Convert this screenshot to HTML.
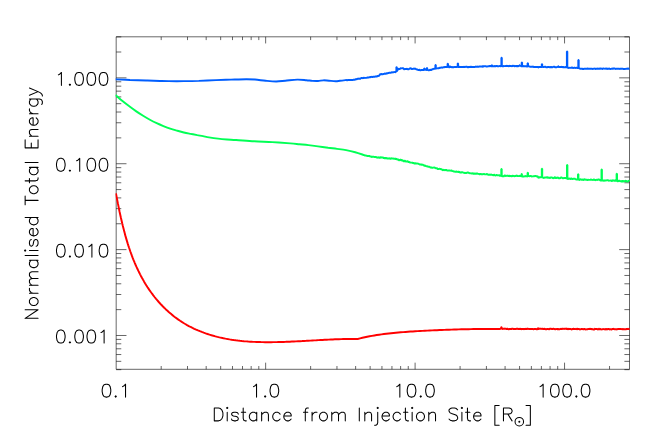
<!DOCTYPE html>
<html><head><meta charset="utf-8"><title>Normalised Total Energy</title>
<style>html,body{margin:0;padding:0;background:#fff;font-family:"Liberation Sans",sans-serif;}svg{display:block}</style></head><body>
<svg width="664" height="443" viewBox="0 0 664 443">
<rect x="0" y="0" width="664" height="443" fill="#ffffff"/>
<path d="M116.18 36.80 H629.50 V369.30 H116.18 Z M161.19 369.30 v-3.30 M161.19 36.80 v3.30 M187.51 369.30 v-3.30 M187.51 36.80 v3.30 M206.18 369.30 v-3.30 M206.18 36.80 v3.30 M220.66 369.30 v-3.30 M220.66 36.80 v3.30 M232.49 369.30 v-3.30 M232.49 36.80 v3.30 M242.50 369.30 v-3.30 M242.50 36.80 v3.30 M251.17 369.30 v-3.30 M251.17 36.80 v3.30 M258.81 369.30 v-3.30 M258.81 36.80 v3.30 M265.65 369.30 v-6.65 M265.65 36.80 v6.65 M310.64 369.30 v-3.30 M310.64 36.80 v3.30 M336.96 369.30 v-3.30 M336.96 36.80 v3.30 M355.63 369.30 v-3.30 M355.63 36.80 v3.30 M370.11 369.30 v-3.30 M370.11 36.80 v3.30 M381.94 369.30 v-3.30 M381.94 36.80 v3.30 M391.95 369.30 v-3.30 M391.95 36.80 v3.30 M400.62 369.30 v-3.30 M400.62 36.80 v3.30 M408.26 369.30 v-3.30 M408.26 36.80 v3.30 M415.10 369.30 v-6.65 M415.10 36.80 v6.65 M460.09 369.30 v-3.30 M460.09 36.80 v3.30 M486.41 369.30 v-3.30 M486.41 36.80 v3.30 M505.08 369.30 v-3.30 M505.08 36.80 v3.30 M519.56 369.30 v-3.30 M519.56 36.80 v3.30 M531.39 369.30 v-3.30 M531.39 36.80 v3.30 M541.40 369.30 v-3.30 M541.40 36.80 v3.30 M550.07 369.30 v-3.30 M550.07 36.80 v3.30 M557.71 369.30 v-3.30 M557.71 36.80 v3.30 M564.55 369.30 v-6.65 M564.55 36.80 v6.65 M609.54 369.30 v-3.30 M609.54 36.80 v3.30 M116.18 369.67 h5.10 M629.50 369.67 h-5.10 M116.18 361.34 h5.10 M629.50 361.34 h-5.10 M116.18 354.54 h5.10 M629.50 354.54 h-5.10 M116.18 348.79 h5.10 M629.50 348.79 h-5.10 M116.18 343.81 h5.10 M629.50 343.81 h-5.10 M116.18 339.42 h5.10 M629.50 339.42 h-5.10 M116.18 335.49 h10.30 M629.50 335.49 h-10.30 M116.18 309.64 h5.10 M629.50 309.64 h-5.10 M116.18 294.51 h5.10 M629.50 294.51 h-5.10 M116.18 283.79 h5.10 M629.50 283.79 h-5.10 M116.18 275.46 h5.10 M629.50 275.46 h-5.10 M116.18 268.66 h5.10 M629.50 268.66 h-5.10 M116.18 262.91 h5.10 M629.50 262.91 h-5.10 M116.18 257.93 h5.10 M629.50 257.93 h-5.10 M116.18 253.54 h5.10 M629.50 253.54 h-5.10 M116.18 249.61 h10.30 M629.50 249.61 h-10.30 M116.18 223.76 h5.10 M629.50 223.76 h-5.10 M116.18 208.63 h5.10 M629.50 208.63 h-5.10 M116.18 197.91 h5.10 M629.50 197.91 h-5.10 M116.18 189.58 h5.10 M629.50 189.58 h-5.10 M116.18 182.78 h5.10 M629.50 182.78 h-5.10 M116.18 177.03 h5.10 M629.50 177.03 h-5.10 M116.18 172.05 h5.10 M629.50 172.05 h-5.10 M116.18 167.66 h5.10 M629.50 167.66 h-5.10 M116.18 163.73 h10.30 M629.50 163.73 h-10.30 M116.18 137.88 h5.10 M629.50 137.88 h-5.10 M116.18 122.75 h5.10 M629.50 122.75 h-5.10 M116.18 112.03 h5.10 M629.50 112.03 h-5.10 M116.18 103.70 h5.10 M629.50 103.70 h-5.10 M116.18 96.90 h5.10 M629.50 96.90 h-5.10 M116.18 91.15 h5.10 M629.50 91.15 h-5.10 M116.18 86.17 h5.10 M629.50 86.17 h-5.10 M116.18 81.78 h5.10 M629.50 81.78 h-5.10 M116.18 77.85 h10.30 M629.50 77.85 h-10.30 M116.18 52.00 h5.10 M629.50 52.00 h-5.10 M116.18 36.87 h5.10 M629.50 36.87 h-5.10" fill="none" stroke="#000000" stroke-width="0.60" stroke-linecap="butt" stroke-linejoin="miter"/>
<defs><clipPath id="pc"><rect x="115.43" y="36.80" width="514.67" height="332.50"/></clipPath></defs>
<g clip-path="url(#pc)" fill="none" stroke-linejoin="bevel" stroke-linecap="butt">
<path d="M115.95 193.40 L116.33 195.39 L116.71 197.39 L117.10 199.38 L117.49 201.39 L117.88 203.39 L118.29 205.40 L118.70 207.42 L119.11 209.43 L119.53 211.45 L119.96 213.46 L120.40 215.48 L120.85 217.50 L121.31 219.52 L121.78 221.54 L122.25 223.56 L122.74 225.58 L123.24 227.59 L123.76 229.60 L124.28 231.62 L124.82 233.62 L125.37 235.63 L125.94 237.63 L126.52 239.63 L127.12 241.62 L127.73 243.61 L128.36 245.59 L129.00 247.56 L129.67 249.53 L130.35 251.50 L131.05 253.45 L131.77 255.40 L132.50 257.34 L133.26 259.27 L134.04 261.20 L134.84 263.11 L135.66 265.01 L136.51 266.91 L137.37 268.79 L138.26 270.66 L139.18 272.52 L140.11 274.37 L141.07 276.21 L142.06 278.03 L143.07 279.84 L144.10 281.63 L145.16 283.41 L146.25 285.17 L147.36 286.92 L148.50 288.64 L149.66 290.35 L150.85 292.04 L152.06 293.71 L153.30 295.36 L154.57 296.99 L155.86 298.59 L157.19 300.18 L158.53 301.74 L159.91 303.27 L161.31 304.79 L162.74 306.27 L164.20 307.73 L165.68 309.17 L167.19 310.57 L168.72 311.95 L170.28 313.30 L171.86 314.62 L173.46 315.91 L175.08 317.17 L176.73 318.39 L178.40 319.59 L180.09 320.75 L181.80 321.88 L183.53 322.97 L185.27 324.03 L187.04 325.05 L188.83 326.04 L190.63 326.99 L192.45 327.90 L194.28 328.77 L196.14 329.61 L198.00 330.42 L199.89 331.19 L201.78 331.93 L203.69 332.64 L205.62 333.32 L207.56 333.98 L209.51 334.61 L211.47 335.22 L213.44 335.79 L215.42 336.33 L217.42 336.85 L219.42 337.34 L221.44 337.80 L223.46 338.24 L225.49 338.65 L227.53 339.03 L229.57 339.39 L231.63 339.73 L233.68 340.05 L235.75 340.33 L237.82 340.58 L239.89 340.81 L241.97 341.02 L244.05 341.21 L246.14 341.38 L248.23 341.53 L250.32 341.67 L252.41 341.79 L254.50 341.89 L256.59 341.97 L258.69 342.04 L260.78 342.09 L262.87 342.13 L264.96 342.16 L267.05 342.18 L269.14 342.18 L271.22 342.17 L273.30 342.15 L275.38 342.12 L277.45 342.08 L279.52 342.03 L281.58 341.98 L283.65 341.91 L285.71 341.84 L287.77 341.76 L289.83 341.68 L291.88 341.58 L293.93 341.49 L295.99 341.39 L298.04 341.28 L300.08 341.18 L302.13 341.07 L304.18 340.95 L306.23 340.84 L308.27 340.72 L310.32 340.61 L312.36 340.49 L314.41 340.37 L316.45 340.26 L318.50 340.14 L320.55 340.03 L322.59 339.92 L324.64 339.81 L326.69 339.70 L328.74 339.60 L330.80 339.50 L332.85 339.41 L334.91 339.33 L336.96 339.25 L339.02 339.18 L341.09 339.11 L343.15 339.06 L345.22 339.01 L347.29 338.98 L349.37 338.95 L351.44 338.93 L353.53 338.93 L355.61 338.93 L357.70 338.95 L360.06 338.36 L362.43 337.80 L364.80 337.27 L367.18 336.78 L369.56 336.31 L371.94 335.87 L374.32 335.45 L376.71 335.07 L379.10 334.70 L381.49 334.36 L383.88 334.04 L386.28 333.74 L388.68 333.45 L391.08 333.19 L393.48 332.94 L395.88 332.71 L398.29 332.50 L400.70 332.29 L403.11 332.10 L405.52 331.92 L407.94 331.75 L410.35 331.59 L412.77 331.44 L415.19 331.29 L417.61 331.15 L420.03 331.01 L422.45 330.87 L424.87 330.74 L427.30 330.62 L429.72 330.50 L432.15 330.38 L434.57 330.26 L437.00 330.16 L439.43 330.05 L441.85 329.95 L444.28 329.86 L446.71 329.77 L449.14 329.68 L451.56 329.60 L453.99 329.52 L456.42 329.45 L458.85 329.39 L461.28 329.32 L463.70 329.27 L466.13 329.22 L468.55 329.17 L470.98 329.13 L473.40 329.09 L475.83 329.06 L478.25 329.04 L480.67 329.02 L483.09 329.00 L485.51 328.99 L487.93 328.99 L490.35 328.99 L492.76 328.99 L495.18 329.01 L497.59 329.03 L500.00 329.05 L500.30 328.83 L500.80 328.71 L501.30 329.06 L501.20 328.95 L501.20 327.10 L501.60 327.10 L501.60 328.95 L501.80 328.65 L502.30 328.98 L502.80 328.86 L503.30 328.64 L503.80 328.96 L504.30 328.63 L504.80 328.90 L505.30 328.65 L505.80 328.66 L506.30 328.90 L506.80 329.18 L507.30 328.69 L507.80 328.76 L508.30 329.04 L508.80 329.26 L509.30 329.00 L509.80 328.88 L510.30 329.28 L510.80 328.63 L511.30 329.20 L511.80 328.80 L512.30 328.70 L512.80 328.68 L513.30 328.82 L513.80 329.17 L514.30 328.73 L514.80 329.01 L515.30 329.05 L515.80 328.86 L516.30 328.98 L516.80 328.64 L517.30 328.64 L517.80 328.74 L518.30 329.08 L518.80 328.90 L519.30 328.82 L519.80 329.01 L520.30 328.92 L520.80 328.81 L521.30 329.16 L521.80 329.09 L522.30 328.77 L522.80 329.00 L523.30 328.97 L523.80 329.21 L524.30 329.11 L524.80 328.80 L525.30 329.29 L525.80 328.68 L526.30 328.89 L526.80 329.13 L527.30 328.71 L527.80 328.94 L528.30 328.63 L528.80 329.07 L529.30 329.14 L529.80 329.00 L530.30 329.21 L530.80 328.82 L531.30 329.09 L531.80 329.02 L532.30 329.01 L532.80 328.92 L533.30 329.19 L533.80 329.27 L534.30 328.94 L534.80 329.08 L535.30 328.65 L535.80 329.11 L536.30 329.07 L536.80 329.31 L537.30 329.19 L537.80 328.82 L537.90 328.97 L537.90 328.10 L538.30 328.10 L538.30 328.97 L538.30 328.89 L538.80 329.09 L539.30 328.64 L539.80 328.95 L540.30 328.75 L540.80 328.71 L541.30 328.67 L541.80 329.17 L542.30 328.73 L542.80 328.81 L543.30 328.91 L543.80 329.25 L544.30 328.70 L544.80 328.96 L545.30 329.03 L545.80 329.27 L546.30 329.22 L546.80 329.26 L547.30 328.85 L547.80 328.95 L548.30 328.91 L548.80 329.28 L549.30 329.33 L549.80 328.77 L550.30 328.79 L550.80 328.83 L551.30 328.83 L551.80 329.01 L552.30 329.09 L552.80 328.86 L553.30 328.68 L553.80 328.97 L554.30 328.94 L554.80 329.08 L555.30 329.35 L555.80 329.17 L556.30 329.05 L556.80 329.12 L557.30 329.16 L557.80 328.73 L558.30 329.32 L558.80 329.24 L559.30 329.31 L559.80 329.26 L560.30 328.98 L560.80 328.98 L561.30 328.78 L561.80 329.15 L562.30 328.75 L562.80 328.75 L563.30 328.85 L563.80 328.82 L564.30 328.95 L564.80 328.75 L565.30 328.71 L565.80 328.82 L566.30 328.79 L566.80 328.97 L567.30 328.74 L567.80 329.33 L568.30 329.15 L568.80 328.83 L569.30 328.90 L569.80 328.97 L570.30 328.98 L570.80 328.81 L571.30 329.32 L571.80 329.42 L572.30 329.06 L572.80 329.07 L573.30 328.79 L573.80 328.81 L574.30 328.98 L574.80 328.92 L575.30 329.32 L575.80 328.85 L576.30 328.76 L576.80 329.41 L577.30 329.11 L577.40 329.09 L577.40 328.70 L577.80 328.70 L577.80 329.09 L577.80 328.85 L578.30 329.13 L578.80 328.77 L579.30 329.12 L579.80 329.43 L580.30 329.36 L580.80 329.24 L581.30 328.94 L581.80 329.01 L582.30 328.87 L582.80 329.30 L583.30 329.13 L583.80 329.30 L584.30 328.99 L584.80 328.92 L585.30 329.33 L585.80 329.45 L586.30 329.36 L586.80 329.33 L587.30 329.34 L587.80 329.29 L588.30 328.93 L588.80 329.13 L589.30 329.02 L589.80 328.79 L590.30 328.80 L590.80 328.97 L591.30 328.96 L591.80 329.26 L592.30 329.45 L592.80 329.10 L593.30 329.44 L593.80 329.48 L594.30 329.45 L594.60 329.14 L594.60 328.80 L595.00 328.80 L595.00 329.14 L594.80 329.04 L595.30 328.94 L595.80 328.95 L596.30 328.93 L596.80 328.94 L597.30 329.23 L597.80 329.42 L598.30 329.38 L598.80 329.13 L598.80 329.15 L598.80 328.60 L599.20 328.60 L599.20 329.15 L599.30 329.26 L599.80 329.36 L600.30 328.86 L600.80 329.26 L601.30 329.44 L601.80 329.35 L602.30 329.33 L602.80 329.13 L603.30 328.92 L603.80 329.35 L604.30 329.03 L604.80 329.36 L605.30 329.48 L605.80 329.08 L606.30 329.08 L606.80 329.46 L607.30 329.31 L607.80 328.92 L608.30 328.89 L608.80 328.91 L609.30 329.43 L609.80 329.36 L610.30 328.90 L610.80 329.38 L611.30 329.49 L611.80 329.26 L612.30 329.05 L612.80 329.18 L613.30 328.89 L613.80 328.81 L614.30 329.48 L614.80 329.25 L615.30 329.17 L615.80 329.45 L616.30 329.10 L616.80 329.41 L617.30 329.38 L617.80 328.95 L618.30 328.98 L618.80 329.01 L619.30 328.97 L619.80 329.21 L620.30 328.98 L620.80 329.09 L621.30 328.89 L621.80 329.44 L622.30 329.05 L622.80 329.12 L623.30 329.21 L623.80 329.43 L624.30 329.09 L624.80 329.44 L625.30 329.15 L625.80 329.17 L626.30 329.17 L626.80 328.81 L627.30 329.11 L627.80 328.93 L628.30 328.80 L628.80 329.36 L629.30 328.92 L629.50 329.15" stroke="#ff0000" stroke-width="1.95"/>
<path d="M115.60 95.05 C115.72 95.15 115.10 94.60 116.30 95.65 C117.50 96.70 120.58 99.53 122.80 101.35 C125.02 103.17 127.35 104.88 129.60 106.55 C131.85 108.22 134.05 109.82 136.30 111.35 C138.55 112.88 140.83 114.35 143.10 115.75 C145.37 117.15 147.63 118.52 149.90 119.75 C152.17 120.98 154.45 122.10 156.70 123.15 C158.95 124.20 161.15 125.13 163.40 126.05 C165.65 126.97 167.93 127.88 170.20 128.65 C172.47 129.42 174.73 130.02 177.00 130.65 C179.27 131.28 181.55 131.92 183.80 132.45 C186.05 132.98 188.25 133.40 190.50 133.85 C192.75 134.30 195.22 134.77 197.30 135.15 C199.38 135.53 201.05 135.78 203.00 136.15 C204.95 136.52 206.48 136.93 209.00 137.35 C211.52 137.77 215.08 138.30 218.10 138.65 C221.12 139.00 224.10 139.23 227.10 139.45 C230.10 139.67 231.58 139.65 236.10 139.95 C240.62 140.25 248.17 140.88 254.20 141.25 C260.23 141.62 266.27 141.80 272.30 142.15 C278.33 142.50 285.88 143.00 290.40 143.35 C294.92 143.70 296.40 143.95 299.40 144.25 C302.40 144.55 305.30 144.80 308.40 145.15 C311.50 145.50 314.72 145.92 318.00 146.35 C321.28 146.78 324.93 147.33 328.10 147.75 C331.27 148.17 334.00 148.45 337.00 148.85 C340.00 149.25 343.07 149.58 346.10 150.15 C349.13 150.72 352.18 151.42 355.20 152.25 C358.22 153.08 362.70 154.67 364.20 155.15 L364.60 155.22 L365.10 155.60 L365.60 155.56 L366.10 155.45 L366.60 155.77 L367.10 155.93 L367.60 156.28 L368.10 155.69 L368.60 156.21 L369.10 155.96 L369.60 156.05 L370.10 156.61 L370.60 156.41 L371.10 156.52 L371.60 156.78 L372.10 157.00 L372.60 156.59 L373.10 156.83 L373.60 156.78 L374.10 156.85 L374.60 157.09 L375.10 156.91 L375.60 157.05 L376.10 157.05 L376.60 157.57 L377.10 157.38 L377.60 157.61 L378.10 157.73 L378.60 157.10 L379.10 157.46 L379.60 157.90 L380.10 157.85 L380.60 157.20 L381.10 157.24 L381.60 157.62 L382.10 157.30 L382.60 157.52 L383.10 157.39 L383.60 158.03 L384.10 158.19 L384.60 158.35 L385.10 157.65 L385.60 158.25 L386.10 158.24 L386.60 157.77 L387.10 158.55 L387.60 158.68 L388.10 157.98 L388.60 158.75 L389.10 158.24 L389.60 158.37 L390.10 158.92 L390.60 158.81 L391.10 158.18 L391.60 158.49 L392.10 158.62 L392.60 158.49 L393.10 158.39 L393.60 158.56 L394.10 159.00 L394.60 158.34 L395.10 158.95 L395.60 158.95 L396.10 158.65 L396.60 159.07 L397.10 159.48 L397.60 159.49 L398.10 159.15 L398.60 160.19 L399.10 160.11 L399.60 160.41 L400.10 159.65 L400.60 159.93 L401.10 159.82 L401.60 160.68 L402.10 160.28 L402.60 160.26 L403.10 160.66 L403.60 161.27 L404.10 161.29 L404.60 160.84 L405.10 160.84 L405.60 161.72 L406.10 161.49 L406.60 161.73 L407.10 161.23 L407.60 161.31 L408.10 162.05 L408.60 161.90 L409.10 161.66 L409.60 162.63 L410.10 162.44 L410.60 162.72 L411.10 162.11 L411.60 163.00 L412.10 162.32 L412.60 163.22 L413.10 162.93 L413.60 162.92 L414.10 163.25 L414.60 163.73 L415.10 163.18 L415.60 163.15 L416.10 163.66 L416.60 163.48 L417.10 163.46 L417.60 163.63 L418.10 163.62 L418.60 163.88 L419.10 164.10 L419.60 164.21 L420.10 164.77 L420.60 164.41 L421.10 164.73 L421.60 164.52 L422.10 164.80 L422.60 164.61 L423.10 164.97 L423.60 164.88 L424.10 165.73 L424.60 165.69 L425.10 165.46 L425.60 165.88 L426.10 166.48 L426.60 165.79 L427.10 166.64 L427.60 166.39 L428.10 166.59 L428.60 167.05 L429.10 166.72 L429.60 166.94 L430.10 167.23 L430.60 167.63 L431.10 167.10 L431.60 167.70 L432.10 167.68 L432.60 167.72 L433.10 167.60 L433.60 167.65 L434.10 167.46 L434.60 167.65 L435.10 167.70 L435.60 168.47 L436.10 168.10 L436.60 168.11 L437.10 168.14 L437.60 169.00 L438.10 169.13 L438.60 169.03 L439.10 168.74 L439.60 168.81 L440.10 168.96 L440.60 169.23 L441.10 169.03 L441.60 169.42 L442.10 169.34 L442.60 170.14 L443.10 170.25 L443.60 169.93 L444.10 169.73 L444.60 170.55 L445.10 169.99 L445.60 170.10 L446.10 169.81 L446.60 170.26 L447.10 170.42 L447.60 170.51 L448.10 170.28 L448.60 170.65 L449.10 170.22 L449.60 170.54 L450.10 170.44 L450.60 170.81 L451.10 170.52 L451.60 170.57 L452.10 170.92 L452.60 170.92 L453.10 171.34 L453.60 171.34 L454.10 171.62 L454.60 171.59 L455.10 171.71 L455.60 171.93 L456.10 171.50 L456.60 171.50 L457.10 172.22 L457.60 171.44 L458.10 172.08 L458.60 172.06 L459.10 171.52 L459.60 172.37 L460.10 172.49 L460.60 172.28 L461.10 172.45 L461.60 172.58 L462.10 171.97 L462.60 172.40 L463.10 172.44 L463.60 172.82 L464.10 172.85 L464.60 172.92 L465.10 172.74 L465.60 173.10 L466.10 172.94 L466.60 173.01 L467.10 172.60 L467.60 172.45 L468.10 172.61 L468.60 172.89 L469.10 172.69 L469.60 173.47 L470.10 173.24 L470.60 173.35 L471.10 173.39 L471.60 173.49 L472.10 173.34 L472.60 172.90 L473.10 173.73 L473.60 173.73 L474.10 173.52 L474.60 173.60 L475.10 173.76 L475.60 173.21 L476.10 173.93 L476.60 173.48 L477.10 173.35 L477.60 173.58 L478.10 174.09 L478.60 173.60 L479.10 174.17 L479.60 174.44 L480.10 174.00 L480.60 173.92 L481.10 174.05 L481.60 174.29 L482.10 174.41 L482.60 174.30 L483.10 174.36 L483.60 173.83 L484.10 173.94 L484.60 174.08 L485.10 174.61 L485.60 174.20 L486.10 174.50 L486.60 173.98 L487.10 174.07 L487.60 174.31 L488.10 174.75 L488.60 174.80 L489.10 174.82 L489.60 174.47 L490.10 174.73 L490.60 174.71 L491.10 174.75 L491.60 174.43 L492.10 175.24 L492.60 174.58 L493.10 175.40 L493.60 175.39 L494.10 174.51 L494.60 174.98 L495.10 175.38 L495.60 175.57 L496.10 175.10 L496.60 174.96 L497.10 174.95 L497.60 175.73 L498.10 175.04 L498.60 175.45 L499.10 175.06 L499.60 175.49 L500.10 176.02 L500.60 175.30 L501.10 176.09 L501.30 175.85 L501.30 169.00 L501.70 169.00 L501.70 175.85 L501.60 175.88 L502.10 176.36 L502.60 176.25 L503.10 175.77 L503.60 176.43 L504.10 176.00 L504.60 175.53 L505.10 175.50 L505.60 175.98 L506.10 175.93 L506.60 175.77 L507.10 175.60 L507.60 175.79 L508.10 175.75 L508.60 176.27 L509.10 175.42 L509.60 176.16 L510.10 176.24 L510.60 175.53 L511.10 176.35 L511.60 176.15 L512.10 176.34 L512.60 175.74 L513.10 175.83 L513.60 175.86 L514.10 176.48 L514.60 176.08 L515.10 175.86 L515.60 175.94 L516.10 175.80 L516.60 175.58 L517.10 175.64 L517.60 176.39 L518.10 175.85 L518.60 176.51 L519.10 175.83 L519.60 175.86 L520.10 176.11 L520.60 175.80 L521.10 175.98 L521.60 176.57 L521.50 176.12 L521.50 174.00 L521.90 174.00 L521.90 176.12 L522.10 176.51 L522.60 176.44 L523.10 176.26 L523.60 176.55 L524.10 176.58 L524.60 176.20 L525.10 176.37 L525.60 175.71 L526.10 176.39 L526.60 176.12 L527.10 176.42 L527.60 176.32 L527.60 176.18 L527.60 172.80 L528.00 172.80 L528.00 176.18 L528.10 175.97 L528.60 175.73 L529.10 176.62 L529.60 175.82 L530.10 176.17 L530.60 176.05 L531.10 176.01 L531.60 176.46 L532.10 176.70 L532.60 175.99 L533.10 176.40 L533.60 176.05 L534.10 176.31 L534.60 176.15 L535.10 175.93 L535.60 175.93 L536.10 175.99 L536.60 176.69 L537.10 176.29 L537.60 176.02 L538.10 177.16 L538.60 178.00 L539.10 177.46 L539.60 177.16 L540.10 177.22 L540.60 177.12 L541.10 177.38 L541.60 177.14 L541.80 177.55 L541.80 168.70 L542.20 168.70 L542.20 177.55 L542.10 177.29 L542.60 177.32 L543.10 177.64 L543.60 177.97 L544.10 177.84 L544.60 177.51 L545.10 177.52 L545.60 177.64 L546.10 177.50 L546.60 177.47 L547.10 177.20 L547.60 177.43 L548.10 178.13 L548.60 177.30 L549.10 177.69 L549.60 177.82 L550.10 178.06 L550.60 177.43 L551.10 177.49 L551.60 177.48 L552.10 177.64 L552.60 177.70 L553.10 178.22 L553.60 178.12 L554.10 178.15 L554.60 177.31 L555.10 177.33 L555.60 178.02 L556.10 178.21 L556.60 177.79 L557.10 177.91 L557.60 177.33 L558.10 177.72 L558.60 178.26 L559.10 178.17 L559.60 178.20 L560.10 178.32 L560.60 177.60 L561.10 177.47 L561.60 177.52 L562.10 177.89 L562.60 178.06 L563.10 178.32 L563.60 178.11 L564.10 178.04 L564.60 178.16 L565.10 177.89 L565.60 178.13 L566.10 177.77 L566.60 178.66 L567.10 178.26 L567.00 178.56 L567.00 164.90 L567.40 164.90 L567.40 178.56 L567.60 179.10 L568.10 178.95 L568.60 178.62 L569.10 178.46 L569.60 178.60 L570.10 179.00 L570.60 179.07 L571.10 178.50 L571.60 178.47 L572.10 178.94 L572.60 179.01 L573.10 178.83 L573.60 178.68 L574.10 179.08 L574.60 178.50 L575.10 178.82 L575.60 179.05 L576.10 179.62 L576.60 179.38 L577.10 179.70 L577.60 179.37 L578.10 179.20 L578.00 179.48 L578.00 174.30 L578.40 174.30 L578.40 179.48 L578.60 179.29 L579.10 180.06 L579.60 179.82 L580.10 179.43 L580.60 179.15 L581.10 179.64 L581.60 179.82 L582.10 179.58 L582.60 179.42 L583.10 179.84 L583.60 180.11 L584.10 179.42 L584.60 179.24 L585.10 179.55 L585.60 179.64 L586.10 179.91 L586.60 179.44 L587.10 180.04 L587.60 180.00 L588.10 179.77 L588.60 179.48 L589.10 180.25 L589.60 179.60 L590.10 180.12 L590.60 179.54 L591.10 179.53 L591.60 180.08 L592.10 179.62 L592.60 180.28 L593.10 179.83 L593.60 179.52 L594.10 179.56 L594.60 179.76 L595.10 180.02 L595.60 180.30 L596.10 179.51 L596.60 179.76 L597.10 179.58 L597.60 180.35 L598.10 179.52 L598.60 179.44 L599.10 179.45 L599.60 179.79 L600.10 180.32 L600.60 180.43 L601.10 180.40 L601.60 180.78 L601.50 180.31 L601.50 169.40 L601.90 169.40 L601.90 180.31 L602.10 180.84 L602.60 180.33 L603.10 180.19 L603.60 180.95 L604.10 180.77 L604.60 180.06 L605.10 180.70 L605.60 180.42 L606.10 180.42 L606.60 180.39 L607.10 180.23 L607.60 180.07 L608.10 180.35 L608.60 180.43 L609.10 181.04 L609.60 180.22 L610.10 181.06 L610.60 180.31 L611.10 180.46 L611.60 180.92 L612.10 180.92 L612.60 180.53 L613.10 180.15 L613.60 180.57 L614.10 180.47 L614.60 181.02 L615.10 180.29 L615.60 180.46 L616.10 181.02 L616.60 180.28 L616.60 180.80 L616.60 173.70 L617.00 173.70 L617.00 180.80 L617.10 180.79 L617.60 181.31 L618.10 181.37 L618.60 180.65 L619.10 180.64 L619.60 180.68 L620.10 181.54 L620.60 180.88 L621.10 181.37 L621.60 181.53 L622.10 180.97 L622.60 180.91 L623.10 181.60 L623.60 181.27 L624.10 180.92 L624.60 181.37 L625.10 180.98 L625.60 180.94 L626.10 180.67 L626.60 181.43 L627.10 181.60 L627.60 181.32 L628.10 181.63 L628.60 180.72 L629.10 180.93 L629.50 181.20" stroke="#00ff55" stroke-width="1.95"/>
<path d="M115.60 79.30 C115.72 79.31 113.90 79.24 116.30 79.35 C118.70 79.46 125.03 79.77 130.00 79.95 C134.97 80.13 141.10 80.28 146.10 80.45 C151.10 80.62 156.23 80.83 160.00 80.95 C163.77 81.07 164.73 81.12 168.70 81.15 C172.67 81.18 178.78 81.20 183.80 81.15 C188.82 81.10 193.43 81.02 198.80 80.85 C204.17 80.68 210.63 80.35 216.00 80.15 C221.37 79.95 225.98 79.80 231.00 79.65 C236.02 79.50 242.10 79.27 246.10 79.25 C250.10 79.23 251.73 79.30 255.00 79.55 C258.27 79.80 262.17 80.43 265.70 80.75 C269.23 81.07 272.93 81.45 276.20 81.45 C279.47 81.45 281.78 81.05 285.30 80.75 C288.82 80.45 293.78 79.73 297.30 79.65 C300.82 79.57 303.88 80.05 306.40 80.25 C308.92 80.45 310.47 80.73 312.40 80.85 C314.33 80.97 316.15 81.03 318.00 80.95 C319.85 80.87 321.67 80.38 323.50 80.35 C325.33 80.32 326.98 80.62 329.00 80.75 C331.02 80.88 333.77 81.15 335.60 81.15 C337.43 81.15 338.25 80.93 340.00 80.75 C341.75 80.57 345.08 80.17 346.10 80.05 L346.50 80.02 L347.00 80.30 L347.50 80.29 L348.00 79.93 L348.50 79.84 L349.00 79.93 L349.50 79.96 L350.00 80.20 L350.50 79.74 L351.00 80.10 L351.50 80.05 L352.00 80.09 L352.50 80.05 L353.00 79.93 L353.50 79.75 L354.00 79.68 L354.50 79.60 L355.00 79.74 L355.50 79.21 L356.00 79.18 L356.50 79.40 L357.00 78.99 L357.50 78.78 L358.00 78.65 L358.50 78.86 L359.00 78.61 L359.50 78.90 L360.00 78.74 L360.50 78.69 L361.00 78.15 L361.50 77.97 L362.00 77.92 L362.50 78.11 L363.00 78.18 L363.50 77.97 L364.00 77.79 L364.50 77.85 L365.00 77.92 L365.50 77.90 L366.00 77.89 L366.50 77.89 L367.00 77.73 L367.50 77.35 L368.00 77.73 L368.50 77.35 L369.00 77.45 L369.50 77.26 L370.00 77.41 L370.50 77.01 L371.00 76.97 L371.50 76.89 L372.00 76.77 L372.50 77.13 L373.00 76.88 L373.50 76.65 L374.00 76.62 L374.50 76.91 L375.00 76.54 L375.50 76.31 L376.00 76.58 L376.50 76.42 L377.00 76.55 L377.50 75.94 L378.00 76.00 L378.50 75.97 L379.00 75.75 L379.50 75.25 L380.00 74.17 L380.50 74.25 L381.00 74.06 L381.50 74.03 L382.00 74.42 L382.50 74.11 L383.00 74.24 L383.50 73.83 L384.00 74.04 L384.50 73.71 L385.00 73.52 L385.50 73.76 L386.00 73.78 L386.50 73.20 L387.00 73.41 L387.50 73.35 L388.00 73.03 L388.50 73.04 L389.00 72.82 L389.50 72.78 L390.00 72.73 L390.50 72.86 L391.00 72.81 L391.50 72.46 L392.00 72.26 L392.50 72.37 L393.00 72.50 L393.50 72.13 L394.00 72.13 L394.50 71.98 L395.00 72.26 L395.50 72.03 L396.00 71.54 L396.50 71.31 L396.40 71.50 L396.40 67.10 L396.80 67.10 L396.80 71.50 L397.00 70.86 L397.50 70.23 L398.00 69.37 L398.50 68.83 L399.00 68.85 L399.50 69.14 L400.00 68.95 L400.50 68.17 L401.00 68.18 L401.50 68.57 L402.00 68.19 L402.50 68.34 L403.00 68.21 L403.50 68.37 L404.00 69.22 L404.50 69.31 L405.00 68.94 L405.50 68.85 L406.00 69.18 L406.50 68.87 L407.00 68.76 L407.50 69.31 L408.00 69.03 L408.50 69.28 L409.00 69.04 L409.50 68.73 L410.00 68.48 L410.50 68.30 L411.00 68.21 L411.50 68.93 L412.00 68.95 L412.50 69.09 L413.00 68.57 L413.50 68.86 L414.00 68.68 L414.50 68.73 L414.70 68.70 L414.70 68.50 L415.10 68.50 L415.10 68.70 L415.00 68.53 L415.50 68.80 L416.00 69.13 L416.50 69.56 L417.00 69.27 L417.50 69.61 L418.00 69.91 L418.50 70.11 L419.00 69.76 L419.50 69.83 L420.00 70.35 L420.50 70.34 L421.00 70.02 L421.50 69.73 L422.00 70.23 L422.50 69.88 L423.00 70.16 L423.50 69.96 L424.00 70.04 L424.10 69.83 L424.10 68.40 L424.50 68.40 L424.50 69.83 L424.50 69.61 L425.00 69.95 L425.50 69.57 L426.00 69.64 L426.50 70.07 L426.80 70.02 L426.80 67.90 L427.20 67.90 L427.20 70.02 L427.00 70.22 L427.50 69.99 L428.00 70.17 L428.50 70.28 L429.00 70.26 L429.50 70.08 L430.00 69.82 L430.50 69.80 L431.00 69.99 L431.50 70.00 L432.00 69.32 L432.50 69.39 L433.00 69.25 L433.50 68.57 L434.00 68.96 L434.50 68.46 L435.00 68.69 L435.50 68.60 L435.40 68.56 L435.40 65.00 L435.80 65.00 L435.80 68.56 L436.00 68.59 L436.50 68.34 L437.00 68.35 L437.50 68.39 L438.00 68.22 L438.50 68.26 L439.00 68.04 L439.50 67.94 L440.00 67.60 L440.50 67.87 L441.00 67.69 L441.50 67.45 L442.00 67.67 L442.50 67.59 L443.00 67.34 L443.50 67.13 L444.00 67.27 L444.50 67.01 L445.00 66.98 L445.50 67.12 L446.00 66.87 L446.50 67.07 L447.00 67.11 L447.50 66.82 L447.60 67.10 L447.60 63.80 L448.00 63.80 L448.00 67.10 L448.00 67.18 L448.50 66.85 L449.00 67.24 L449.50 67.27 L449.70 67.10 L449.70 66.20 L450.10 66.20 L450.10 67.10 L450.00 67.11 L450.50 66.83 L451.00 67.10 L451.50 67.03 L452.00 67.37 L452.50 66.87 L453.00 67.26 L453.50 67.30 L454.00 67.10 L454.50 67.11 L455.00 66.70 L455.50 67.13 L456.00 66.80 L456.50 67.10 L457.00 67.09 L457.50 66.66 L457.70 66.88 L457.70 63.50 L458.10 63.50 L458.10 66.88 L458.00 67.06 L458.50 67.16 L459.00 66.67 L459.50 66.86 L460.00 67.12 L460.50 66.79 L461.00 67.24 L461.50 66.86 L462.00 67.19 L462.50 66.79 L463.00 67.00 L463.50 67.25 L464.00 66.82 L464.50 66.86 L465.00 67.00 L465.50 66.89 L466.00 66.72 L466.50 66.80 L467.00 66.77 L467.50 67.23 L468.00 67.06 L468.50 67.18 L469.00 66.73 L469.50 67.09 L470.00 66.68 L470.50 66.92 L471.00 66.97 L471.50 66.79 L472.00 67.09 L472.50 66.89 L473.00 66.89 L473.50 67.06 L474.00 66.58 L474.50 67.11 L475.00 66.88 L475.50 66.71 L476.00 66.92 L476.50 66.57 L477.00 66.98 L477.50 66.70 L478.00 66.55 L478.50 66.76 L479.00 66.54 L479.50 66.35 L480.00 66.66 L480.50 66.23 L481.00 66.68 L481.50 66.33 L482.00 66.55 L482.50 66.75 L482.80 66.45 L482.80 66.00 L483.20 66.00 L483.20 66.45 L483.00 66.50 L483.50 66.54 L484.00 66.32 L484.50 66.13 L485.00 66.14 L485.50 66.20 L486.00 66.47 L486.50 66.35 L487.00 66.39 L487.50 66.60 L488.00 66.13 L488.50 66.18 L489.00 66.43 L489.50 66.04 L490.00 66.01 L490.50 66.21 L491.00 66.05 L491.50 66.19 L491.70 66.27 L491.70 65.20 L492.10 65.20 L492.10 66.27 L492.00 66.10 L492.50 66.31 L493.00 66.30 L493.50 66.06 L494.00 66.30 L494.50 66.20 L495.00 65.98 L495.50 66.46 L496.00 66.04 L496.50 65.97 L497.00 65.94 L497.50 66.26 L498.00 66.39 L498.50 66.33 L499.00 66.10 L499.50 66.01 L500.00 65.86 L500.50 66.23 L501.00 66.18 L501.50 66.05 L501.40 66.13 L501.40 57.70 L501.80 57.70 L501.80 66.13 L502.00 66.22 L502.50 66.09 L503.00 66.38 L503.50 66.26 L504.00 65.96 L504.50 66.35 L505.00 65.83 L505.50 66.11 L506.00 66.03 L506.50 65.93 L507.00 65.82 L507.50 66.24 L508.00 65.78 L508.50 66.10 L509.00 66.32 L509.50 65.84 L510.00 65.87 L510.50 66.11 L511.00 66.04 L511.50 66.12 L512.00 66.22 L512.50 65.83 L513.00 65.91 L513.50 65.90 L514.00 65.74 L514.50 66.24 L515.00 66.17 L515.50 66.14 L516.00 65.72 L516.50 66.24 L517.00 66.19 L517.50 66.03 L518.00 66.21 L518.50 66.04 L519.00 65.92 L519.50 65.85 L519.40 66.09 L519.40 65.20 L519.80 65.20 L519.80 66.09 L520.00 65.94 L520.50 65.83 L521.00 66.02 L521.50 66.28 L521.70 66.14 L521.70 62.50 L522.10 62.50 L522.10 66.14 L522.00 66.26 L522.50 66.36 L523.00 66.29 L523.50 66.03 L524.00 66.21 L524.50 66.15 L525.00 66.37 L525.50 66.25 L526.00 66.14 L526.50 66.41 L527.00 66.64 L527.50 66.23 L527.60 66.42 L527.60 63.30 L528.00 63.30 L528.00 66.42 L528.00 66.67 L528.50 66.19 L529.00 66.38 L529.50 66.40 L530.00 66.75 L530.50 66.89 L531.00 66.79 L531.50 66.56 L532.00 66.92 L532.50 66.61 L533.00 66.58 L533.50 67.00 L534.00 66.86 L534.50 66.92 L535.00 66.92 L535.50 67.13 L536.00 66.85 L536.50 67.10 L537.00 67.03 L537.50 67.15 L538.00 66.92 L538.10 66.97 L538.10 67.40 L538.50 67.40 L538.50 66.97 L538.50 67.12 L539.00 67.05 L539.50 66.91 L540.00 66.88 L540.50 67.12 L541.00 66.80 L541.50 67.30 L541.80 67.05 L541.80 64.10 L542.20 64.10 L542.20 67.05 L542.00 66.84 L542.50 66.77 L543.00 66.81 L543.50 67.31 L544.00 66.96 L544.50 66.84 L545.00 66.77 L545.50 66.77 L546.00 67.17 L546.50 67.13 L547.00 67.17 L547.50 67.19 L548.00 66.79 L548.50 67.10 L549.00 66.97 L549.50 67.24 L550.00 67.24 L550.50 67.28 L551.00 66.79 L551.50 67.27 L552.00 67.30 L552.50 67.32 L553.00 66.81 L553.50 66.87 L554.00 66.82 L554.50 66.77 L555.00 67.26 L555.50 67.24 L556.00 67.13 L556.50 67.25 L557.00 67.13 L557.50 66.92 L558.00 66.81 L558.10 67.05 L558.10 66.30 L558.50 66.30 L558.50 67.05 L558.50 66.81 L559.00 67.20 L559.50 66.87 L560.00 66.94 L560.50 67.01 L561.00 66.78 L561.50 66.93 L562.00 66.95 L562.50 67.22 L563.00 67.02 L563.50 67.00 L564.00 67.40 L564.50 67.13 L565.00 67.34 L565.50 67.21 L566.00 66.87 L566.50 67.24 L567.00 67.39 L566.90 67.46 L566.90 51.40 L567.30 51.40 L567.30 67.46 L567.50 67.73 L568.00 67.62 L568.50 67.97 L569.00 67.87 L569.50 67.68 L570.00 68.07 L570.50 67.60 L571.00 68.04 L571.50 67.65 L572.00 67.55 L572.50 67.67 L573.00 68.01 L573.50 68.14 L574.00 67.55 L574.50 67.84 L575.00 67.84 L575.50 68.04 L576.00 67.69 L576.50 67.90 L577.00 67.82 L577.50 68.13 L578.00 67.81 L578.30 68.15 L578.30 60.00 L578.70 60.00 L578.70 68.15 L578.50 68.42 L579.00 68.22 L579.50 68.38 L580.00 68.87 L580.50 68.75 L581.00 68.52 L581.50 68.83 L582.00 68.50 L582.50 68.92 L583.00 68.87 L583.50 68.92 L584.00 68.83 L584.50 68.66 L585.00 68.69 L585.50 68.69 L586.00 68.98 L586.50 68.50 L587.00 68.98 L587.50 68.47 L588.00 68.57 L588.50 68.61 L589.00 68.99 L589.50 68.75 L590.00 68.68 L590.50 68.98 L591.00 68.59 L591.50 68.73 L592.00 68.77 L592.50 68.90 L593.00 68.90 L593.50 68.84 L594.00 68.66 L594.50 68.65 L595.00 68.54 L595.50 68.96 L596.00 68.85 L596.50 68.90 L597.00 68.55 L597.50 68.71 L598.00 68.91 L598.50 68.80 L599.00 68.53 L599.50 68.73 L600.00 68.98 L600.50 68.59 L601.00 68.56 L601.50 68.63 L602.00 68.87 L602.50 68.96 L603.00 68.54 L603.50 68.54 L604.00 68.60 L604.50 68.65 L605.00 68.76 L605.50 68.55 L606.00 68.65 L606.50 68.56 L607.00 69.04 L607.50 68.89 L608.00 68.51 L608.50 69.03 L609.00 68.51 L609.50 68.68 L610.00 69.04 L610.50 68.93 L611.00 68.89 L611.50 68.71 L612.00 68.57 L612.50 68.83 L613.00 68.51 L613.50 68.57 L614.00 68.68 L614.50 68.47 L615.00 68.69 L615.50 68.92 L616.00 68.87 L616.50 68.75 L617.00 68.83 L617.50 68.73 L618.00 68.54 L618.50 68.81 L619.00 68.69 L619.50 68.89 L620.00 68.99 L620.50 68.71 L621.00 68.79 L621.50 68.90 L622.00 68.70 L622.50 68.59 L623.00 68.88 L623.50 68.98 L624.00 68.91 L624.50 68.87 L625.00 68.96 L625.50 68.86 L626.00 68.83 L626.50 68.72 L627.00 68.64 L627.50 68.83 L628.00 68.51 L628.50 68.70 L629.00 68.92 L629.50 68.75" stroke="#005eff" stroke-width="1.95"/>
</g>
<path d="M58.34 74.89 L59.57 74.28 L61.41 72.44 L61.41 85.35 M69.92 84.12 L69.31 84.73 L69.92 85.35 L70.54 84.73 L69.92 84.12 M78.48 72.44 L76.64 73.05 L75.41 74.89 L74.79 77.97 L74.79 79.81 L75.41 82.89 L76.64 84.73 L78.48 85.35 L79.71 85.35 L81.56 84.73 L82.79 82.89 L83.40 79.81 L83.40 77.97 L82.79 74.89 L81.56 73.05 L79.71 72.44 L78.48 72.44 M90.68 72.44 L88.84 73.05 L87.61 74.89 L86.99 77.97 L86.99 79.81 L87.61 82.89 L88.84 84.73 L90.68 85.35 L91.91 85.35 L93.76 84.73 L94.99 82.89 L95.60 79.81 L95.60 77.97 L94.99 74.89 L93.76 73.05 L91.91 72.44 L90.68 72.44 M102.88 72.44 L101.04 73.05 L99.81 74.89 L99.19 77.97 L99.19 79.81 L99.81 82.89 L101.04 84.73 L102.88 85.35 L104.11 85.35 L105.96 84.73 L107.19 82.89 L107.80 79.81 L107.80 77.97 L107.19 74.89 L105.96 73.05 L104.11 72.44 L102.88 72.44 M60.19 158.31 L58.34 158.93 L57.11 160.77 L56.49 163.85 L56.49 165.69 L57.11 168.77 L58.34 170.61 L60.19 171.23 L61.41 171.23 L63.26 170.61 L64.49 168.77 L65.11 165.69 L65.11 163.85 L64.49 160.77 L63.26 158.93 L61.41 158.31 L60.19 158.31 M69.92 170.00 L69.31 170.61 L69.92 171.23 L70.54 170.61 L69.92 170.00 M76.64 160.77 L77.87 160.16 L79.71 158.31 L79.71 171.23 M90.68 158.31 L88.84 158.93 L87.61 160.77 L86.99 163.85 L86.99 165.69 L87.61 168.77 L88.84 170.61 L90.68 171.23 L91.91 171.23 L93.76 170.61 L94.99 168.77 L95.60 165.69 L95.60 163.85 L94.99 160.77 L93.76 158.93 L91.91 158.31 L90.68 158.31 M102.88 158.31 L101.04 158.93 L99.81 160.77 L99.19 163.85 L99.19 165.69 L99.81 168.77 L101.04 170.61 L102.88 171.23 L104.11 171.23 L105.96 170.61 L107.19 168.77 L107.80 165.69 L107.80 163.85 L107.19 160.77 L105.96 158.93 L104.11 158.31 L102.88 158.31 M60.19 244.20 L58.34 244.81 L57.11 246.66 L56.49 249.73 L56.49 251.58 L57.11 254.65 L58.34 256.50 L60.19 257.11 L61.41 257.11 L63.26 256.50 L64.49 254.65 L65.11 251.58 L65.11 249.73 L64.49 246.66 L63.26 244.81 L61.41 244.20 L60.19 244.20 M69.92 255.88 L69.31 256.50 L69.92 257.11 L70.54 256.50 L69.92 255.88 M78.48 244.20 L76.64 244.81 L75.41 246.66 L74.79 249.73 L74.79 251.58 L75.41 254.65 L76.64 256.50 L78.48 257.11 L79.71 257.11 L81.56 256.50 L82.79 254.65 L83.40 251.58 L83.40 249.73 L82.79 246.66 L81.56 244.81 L79.71 244.20 L78.48 244.20 M88.84 246.66 L90.07 246.04 L91.91 244.20 L91.91 257.11 M102.88 244.20 L101.04 244.81 L99.81 246.66 L99.19 249.73 L99.19 251.58 L99.81 254.65 L101.04 256.50 L102.88 257.11 L104.11 257.11 L105.96 256.50 L107.19 254.65 L107.80 251.58 L107.80 249.73 L107.19 246.66 L105.96 244.81 L104.11 244.20 L102.88 244.20 M60.19 330.07 L58.34 330.69 L57.11 332.54 L56.49 335.61 L56.49 337.45 L57.11 340.53 L58.34 342.38 L60.19 342.99 L61.41 342.99 L63.26 342.38 L64.49 340.53 L65.11 337.45 L65.11 335.61 L64.49 332.54 L63.26 330.69 L61.41 330.07 L60.19 330.07 M69.92 341.76 L69.31 342.38 L69.92 342.99 L70.54 342.38 L69.92 341.76 M78.48 330.07 L76.64 330.69 L75.41 332.54 L74.79 335.61 L74.79 337.45 L75.41 340.53 L76.64 342.38 L78.48 342.99 L79.71 342.99 L81.56 342.38 L82.79 340.53 L83.40 337.45 L83.40 335.61 L82.79 332.54 L81.56 330.69 L79.71 330.07 L78.48 330.07 M90.68 330.07 L88.84 330.69 L87.61 332.54 L86.99 335.61 L86.99 337.45 L87.61 340.53 L88.84 342.38 L90.68 342.99 L91.91 342.99 L93.76 342.38 L94.99 340.53 L95.60 337.45 L95.60 335.61 L94.99 332.54 L93.76 330.69 L91.91 330.07 L90.68 330.07 M101.04 332.54 L102.27 331.92 L104.11 330.07 L104.11 342.99 M105.86 384.19 L104.02 384.80 L102.78 386.65 L102.17 389.72 L102.17 391.56 L102.78 394.64 L104.02 396.49 L105.86 397.10 L107.09 397.10 L108.94 396.49 L110.17 394.64 L110.78 391.56 L110.78 389.72 L110.17 386.65 L108.94 384.80 L107.09 384.19 L105.86 384.19 M115.70 395.87 L115.08 396.49 L115.70 397.10 L116.31 396.49 L115.70 395.87 M122.47 386.65 L123.70 386.03 L125.54 384.19 L125.54 397.10 M253.46 386.65 L254.69 386.03 L256.54 384.19 L256.54 397.10 M265.15 395.87 L264.53 396.49 L265.15 397.10 L265.76 396.49 L265.15 395.87 M273.76 384.19 L271.91 384.80 L270.68 386.65 L270.07 389.72 L270.07 391.56 L270.68 394.64 L271.91 396.49 L273.76 397.10 L274.99 397.10 L276.83 396.49 L278.06 394.64 L278.68 391.56 L278.68 389.72 L278.06 386.65 L276.83 384.80 L274.99 384.19 L273.76 384.19 M396.76 386.65 L398.00 386.03 L399.84 384.19 L399.84 397.10 M410.91 384.19 L409.06 384.80 L407.83 386.65 L407.22 389.72 L407.22 391.56 L407.83 394.64 L409.06 396.49 L410.91 397.10 L412.14 397.10 L413.99 396.49 L415.21 394.64 L415.83 391.56 L415.83 389.72 L415.21 386.65 L413.99 384.80 L412.14 384.19 L410.91 384.19 M420.75 395.87 L420.13 396.49 L420.75 397.10 L421.37 396.49 L420.75 395.87 M429.36 384.19 L427.51 384.80 L426.28 386.65 L425.67 389.72 L425.67 391.56 L426.28 394.64 L427.51 396.49 L429.36 397.10 L430.59 397.10 L432.44 396.49 L433.66 394.64 L434.28 391.56 L434.28 389.72 L433.66 386.65 L432.44 384.80 L430.59 384.19 L429.36 384.19 M540.07 386.65 L541.29 386.03 L543.14 384.19 L543.14 397.10 M554.21 384.19 L552.37 384.80 L551.13 386.65 L550.52 389.72 L550.52 391.56 L551.13 394.64 L552.37 396.49 L554.21 397.10 L555.44 397.10 L557.28 396.49 L558.51 394.64 L559.13 391.56 L559.13 389.72 L558.51 386.65 L557.28 384.80 L555.44 384.19 L554.21 384.19 M566.51 384.19 L564.66 384.80 L563.43 386.65 L562.82 389.72 L562.82 391.56 L563.43 394.64 L564.66 396.49 L566.51 397.10 L567.74 397.10 L569.58 396.49 L570.81 394.64 L571.43 391.56 L571.43 389.72 L570.81 386.65 L569.58 384.80 L567.74 384.19 L566.51 384.19 M576.35 395.87 L575.73 396.49 L576.35 397.10 L576.96 396.49 L576.35 395.87 M584.96 384.19 L583.11 384.80 L581.88 386.65 L581.27 389.72 L581.27 391.56 L581.88 394.64 L583.11 396.49 L584.96 397.10 L586.19 397.10 L588.03 396.49 L589.26 394.64 L589.88 391.56 L589.88 389.72 L589.26 386.65 L588.03 384.80 L586.19 384.19 L584.96 384.19 M214.30 407.94 L214.30 420.85 M214.30 407.94 L218.60 407.94 L220.45 408.55 L221.68 409.78 L222.30 411.01 L222.91 412.86 L222.91 415.93 L222.30 417.78 L221.68 419.00 L220.45 420.24 L218.60 420.85 L214.30 420.85 M226.60 407.94 L227.22 408.55 L227.83 407.94 L227.22 407.32 L226.60 407.94 M227.22 412.24 L227.22 420.85 M238.28 414.09 L237.67 412.86 L235.82 412.24 L233.98 412.24 L232.13 412.86 L231.52 414.09 L232.13 415.31 L233.36 415.93 L236.44 416.55 L237.67 417.16 L238.28 418.39 L238.28 419.00 L237.67 420.24 L235.82 420.85 L233.98 420.85 L232.13 420.24 L231.52 419.00 M243.20 407.94 L243.20 418.39 L243.82 420.24 L245.05 420.85 L246.28 420.85 M241.36 412.24 L245.66 412.24 M256.74 412.24 L256.74 420.85 M256.74 414.09 L255.50 412.86 L254.27 412.24 L252.43 412.24 L251.20 412.86 L249.97 414.09 L249.35 415.93 L249.35 417.16 L249.97 419.00 L251.20 420.24 L252.43 420.85 L254.27 420.85 L255.50 420.24 L256.74 419.00 M261.65 412.24 L261.65 420.85 M261.65 414.70 L263.50 412.86 L264.73 412.24 L266.57 412.24 L267.81 412.86 L268.42 414.70 L268.42 420.85 M280.11 414.09 L278.88 412.86 L277.64 412.24 L275.80 412.24 L274.57 412.86 L273.34 414.09 L272.73 415.93 L272.73 417.16 L273.34 419.00 L274.57 420.24 L275.80 420.85 L277.64 420.85 L278.88 420.24 L280.11 419.00 M283.80 415.93 L291.18 415.93 L291.18 414.70 L290.56 413.47 L289.94 412.86 L288.71 412.24 L286.87 412.24 L285.64 412.86 L284.41 414.09 L283.80 415.93 L283.80 417.16 L284.41 419.00 L285.64 420.24 L286.87 420.85 L288.71 420.85 L289.94 420.24 L291.18 419.00 M308.38 407.94 L307.15 407.94 L305.92 408.55 L305.30 410.40 L305.30 420.85 M303.46 412.24 L307.76 412.24 M312.06 412.24 L312.06 420.85 M312.06 415.93 L312.68 414.09 L313.91 412.86 L315.14 412.24 L316.99 412.24 M322.52 412.24 L321.29 412.86 L320.06 414.09 L319.45 415.93 L319.45 417.16 L320.06 419.00 L321.29 420.24 L322.52 420.85 L324.37 420.85 L325.60 420.24 L326.83 419.00 L327.44 417.16 L327.44 415.93 L326.83 414.09 L325.60 412.86 L324.37 412.24 L322.52 412.24 M331.75 412.24 L331.75 420.85 M331.75 414.70 L333.59 412.86 L334.82 412.24 L336.67 412.24 L337.90 412.86 L338.51 414.70 L338.51 420.85 M338.51 414.70 L340.36 412.86 L341.59 412.24 L343.43 412.24 L344.66 412.86 L345.28 414.70 L345.28 420.85 M359.30 407.94 L359.30 420.85 M364.80 412.24 L364.80 420.85 M364.80 414.70 L366.65 412.86 L367.88 412.24 L369.72 412.24 L370.95 412.86 L371.57 414.70 L371.57 420.85 M377.10 407.94 L377.72 408.55 L378.33 407.94 L377.72 407.32 L377.10 407.94 M377.72 412.24 L377.72 422.70 L377.10 424.54 L375.87 425.16 L374.64 425.16 M382.02 415.93 L389.40 415.93 L389.40 414.70 L388.79 413.47 L388.17 412.86 L386.94 412.24 L385.10 412.24 L383.87 412.86 L382.63 414.09 L382.02 415.93 L382.02 417.16 L382.63 419.00 L383.87 420.24 L385.10 420.85 L386.94 420.85 L388.17 420.24 L389.40 419.00 M400.47 414.09 L399.24 412.86 L398.01 412.24 L396.17 412.24 L394.94 412.86 L393.70 414.09 L393.09 415.93 L393.09 417.16 L393.70 419.00 L394.94 420.24 L396.17 420.85 L398.01 420.85 L399.24 420.24 L400.47 419.00 M405.39 407.94 L405.39 418.39 L406.00 420.24 L407.24 420.85 L408.46 420.85 M403.55 412.24 L407.85 412.24 M411.54 407.94 L412.15 408.55 L412.77 407.94 L412.15 407.32 L411.54 407.94 M412.15 412.24 L412.15 420.85 M419.54 412.24 L418.31 412.86 L417.07 414.09 L416.46 415.93 L416.46 417.16 L417.07 419.00 L418.31 420.24 L419.54 420.85 L421.38 420.85 L422.61 420.24 L423.84 419.00 L424.45 417.16 L424.45 415.93 L423.84 414.09 L422.61 412.86 L421.38 412.24 L419.54 412.24 M428.76 412.24 L428.76 420.85 M428.76 414.70 L430.61 412.86 L431.84 412.24 L433.68 412.24 L434.91 412.86 L435.53 414.70 L435.53 420.85 M457.61 409.78 L456.38 408.55 L454.53 407.94 L452.07 407.94 L450.23 408.55 L449.00 409.78 L449.00 411.01 L449.61 412.24 L450.23 412.86 L451.46 413.47 L455.15 414.70 L456.38 415.31 L456.99 415.93 L457.61 417.16 L457.61 419.00 L456.38 420.24 L454.53 420.85 L452.07 420.85 L450.23 420.24 L449.00 419.00 M461.30 407.94 L461.91 408.55 L462.53 407.94 L461.91 407.32 L461.30 407.94 M461.91 412.24 L461.91 420.85 M467.45 407.94 L467.45 418.39 L468.06 420.24 L469.29 420.85 L470.52 420.85 M465.60 412.24 L469.91 412.24 M473.60 415.93 L480.98 415.93 L480.98 414.70 L480.36 413.47 L479.75 412.86 L478.52 412.24 L476.67 412.24 L475.44 412.86 L474.21 414.09 L473.60 415.93 L473.60 417.16 L474.21 419.00 L475.44 420.24 L476.67 420.85 L478.52 420.85 L479.75 420.24 L480.98 419.00 M494.85 405.48 L494.85 425.16 M494.85 405.48 L499.16 405.48 M494.85 425.16 L499.16 425.16 M503.46 407.94 L503.46 420.85 M503.46 407.94 L509.00 407.94 L510.84 408.55 L511.46 409.17 L512.07 410.40 L512.07 411.62 L511.46 412.86 L510.84 413.47 L509.00 414.09 L503.46 414.09 M507.77 414.09 L512.07 420.85 M530.35 405.48 L530.35 425.16 M526.05 405.48 L530.35 405.48 M526.05 425.16 L530.35 425.16" fill="none" stroke="#000" stroke-width="1.05" stroke-linecap="round" stroke-linejoin="round"/>
<circle cx="519.3" cy="421.7" r="4.25" fill="none" stroke="#000" stroke-width="1.05"/>
<circle cx="519.3" cy="421.7" r="1.0" fill="#000"/>
<path transform="translate(38.05 320.8) rotate(-90)" d="M2.46 -12.91 L2.46 0.00 M2.46 -12.91 L11.07 0.00 M11.07 -12.91 L11.07 0.00 M18.36 -8.61 L17.13 -8.00 L15.90 -6.76 L15.29 -4.92 L15.29 -3.69 L15.90 -1.84 L17.13 -0.61 L18.36 0.00 L20.21 0.00 L21.44 -0.61 L22.67 -1.84 L23.28 -3.69 L23.28 -4.92 L22.67 -6.76 L21.44 -8.00 L20.21 -8.61 L18.36 -8.61 M27.51 -8.61 L27.51 0.00 M27.51 -4.92 L28.13 -6.76 L29.36 -8.00 L30.59 -8.61 L32.43 -8.61 M35.45 -8.61 L35.45 0.00 M35.45 -6.15 L37.30 -8.00 L38.53 -8.61 L40.37 -8.61 L41.60 -8.00 L42.22 -6.15 L42.22 0.00 M42.22 -6.15 L44.06 -8.00 L45.29 -8.61 L47.14 -8.61 L48.37 -8.00 L48.98 -6.15 L48.98 0.00 M60.55 -8.61 L60.55 0.00 M60.55 -6.76 L59.32 -8.00 L58.09 -8.61 L56.24 -8.61 L55.01 -8.00 L53.78 -6.76 L53.17 -4.92 L53.17 -3.69 L53.78 -1.84 L55.01 -0.61 L56.24 0.00 L58.09 0.00 L59.32 -0.61 L60.55 -1.84 M65.39 -12.91 L65.39 0.00 M69.67 -12.91 L70.28 -12.30 L70.90 -12.91 L70.28 -13.53 L69.67 -12.91 M70.28 -8.61 L70.28 0.00 M81.32 -6.76 L80.70 -8.00 L78.86 -8.61 L77.01 -8.61 L75.17 -8.00 L74.55 -6.76 L75.17 -5.54 L76.40 -4.92 L79.47 -4.30 L80.70 -3.69 L81.32 -2.46 L81.32 -1.84 L80.70 -0.61 L78.86 0.00 L77.01 0.00 L75.17 -0.61 L74.55 -1.84 M84.94 -4.92 L92.32 -4.92 L92.32 -6.15 L91.71 -7.38 L91.09 -8.00 L89.86 -8.61 L88.02 -8.61 L86.79 -8.00 L85.56 -6.76 L84.94 -4.92 L84.94 -3.69 L85.56 -1.84 L86.79 -0.61 L88.02 0.00 L89.86 0.00 L91.09 -0.61 L92.32 -1.84 M103.32 -12.91 L103.32 0.00 M103.32 -6.76 L102.09 -8.00 L100.86 -8.61 L99.01 -8.61 L97.78 -8.00 L96.55 -6.76 L95.94 -4.92 L95.94 -3.69 L96.55 -1.84 L97.78 -0.61 L99.01 0.00 L100.86 0.00 L102.09 -0.61 L103.32 -1.84 M120.40 -12.91 L120.40 0.00 M116.09 -12.91 L124.70 -12.91 M130.17 -8.61 L128.94 -8.00 L127.71 -6.76 L127.10 -4.92 L127.10 -3.69 L127.71 -1.84 L128.94 -0.61 L130.17 0.00 L132.02 0.00 L133.25 -0.61 L134.48 -1.84 L135.09 -3.69 L135.09 -4.92 L134.48 -6.76 L133.25 -8.00 L132.02 -8.61 L130.17 -8.61 M139.94 -12.91 L139.94 -2.46 L140.55 -0.61 L141.78 0.00 L143.01 0.00 M138.09 -8.61 L142.40 -8.61 M153.42 -8.61 L153.42 0.00 M153.42 -6.76 L152.19 -8.00 L150.96 -8.61 L149.12 -8.61 L147.89 -8.00 L146.66 -6.76 L146.04 -4.92 L146.04 -3.69 L146.66 -1.84 L147.89 -0.61 L149.12 0.00 L150.96 0.00 L152.19 -0.61 L153.42 -1.84 M158.27 -12.91 L158.27 0.00 M172.93 -12.91 L172.93 0.00 M172.93 -12.91 L180.92 -12.91 M172.93 -6.76 L177.85 -6.76 M172.93 0.00 L180.92 0.00 M184.54 -8.61 L184.54 0.00 M184.54 -6.15 L186.38 -8.00 L187.61 -8.61 L189.46 -8.61 L190.69 -8.00 L191.30 -6.15 L191.30 0.00 M195.53 -4.92 L202.91 -4.92 L202.91 -6.15 L202.30 -7.38 L201.68 -8.00 L200.45 -8.61 L198.61 -8.61 L197.38 -8.00 L196.15 -6.76 L195.53 -4.92 L195.53 -3.69 L196.15 -1.84 L197.38 -0.61 L198.61 0.00 L200.45 0.00 L201.68 -0.61 L202.91 -1.84 M207.15 -8.61 L207.15 0.00 M207.15 -4.92 L207.76 -6.76 L208.99 -8.00 L210.22 -8.61 L212.07 -8.61 M221.85 -8.61 L221.85 1.23 L221.24 3.08 L220.62 3.69 L219.39 4.30 L217.55 4.30 L216.32 3.69 M221.85 -6.76 L220.62 -8.00 L219.39 -8.61 L217.55 -8.61 L216.32 -8.00 L215.09 -6.76 L214.47 -4.92 L214.47 -3.69 L215.09 -1.84 L216.32 -0.61 L217.55 0.00 L219.39 0.00 L220.62 -0.61 L221.85 -1.84 M225.47 -8.61 L229.16 0.00 M232.85 -8.61 L229.16 0.00 L227.93 2.46 L226.70 3.69 L225.47 4.30 L224.85 4.30" fill="none" stroke="#000" stroke-width="1.05" stroke-linecap="round" stroke-linejoin="round"/>
</svg></body></html>
